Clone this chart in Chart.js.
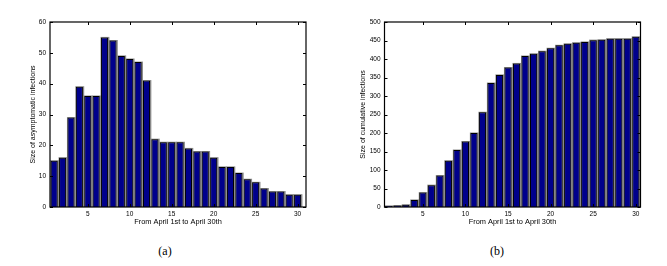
<!DOCTYPE html>
<html>
<head>
<meta charset="utf-8">
<script src="https://cdn.jsdelivr.net/npm/chart.js@4"></script>
<style>
  body { margin: 0; background: #fff; width: 667px; height: 266px; position: relative; overflow: hidden; }
  .box { position: absolute; top: 0; height: 230px; }
  .cap { position: absolute; top: 244px; font: 12px "Liberation Serif", serif; color: #000; transform: translateX(-50%); }
</style>
</head>
<body>
<div class="box" style="left:0;width:330px"><canvas id="chartA"></canvas></div>
<div class="box" style="left:330px;width:337px"><canvas id="chartB"></canvas></div>
<div class="cap" style="left:165px">(a)</div>
<div class="cap" style="left:497px">(b)</div>
<script>
const days = [1,2,3,4,5,6,7,8,9,10,11,12,13,14,15,16,17,18,19,20,21,22,23,24,25,26,27,28,29,30];
const asymptomatic = [15,16,29,39,36,36,55,54,49,48,47,41,22,21,21,21,19,18,18,16,13,13,11,9,8,6,5,5,4,4];
const cumulative = [3,4,6,19,39,59,85,125,154,177,200,256,335,357,377,388,408,414,421,429,437,441,444,446,451,452,455,455,455,460];
const xTicks = [5,10,15,20,25,30];

const tickFont = { family: 'Liberation Sans', size: 6.5 };

// inside tick marks + box, matlab style
const boxPlugin = {
    id: 'box',
    beforeDatasetsDraw(chart) {
        const ctx = chart.ctx;
        ctx.save();
        ctx.fillStyle = '#8a8a8a';
        chart.getDatasetMeta(0).data.forEach(bar => {
            ctx.fillRect(bar.x - bar.width / 2 - 0.5, bar.y - 0.5, bar.width + 1.8, bar.base - bar.y + 0.5);
        });
        ctx.restore();
    },
    afterDatasetsDraw(chart) {
        const ctx = chart.ctx;
        const a = chart.chartArea;
        ctx.save();
        ctx.strokeStyle = '#000';
        ctx.lineWidth = 1;
        ctx.beginPath();
        chart.scales.x.ticks.forEach(t => {
            const px = Math.round(chart.scales.x.getPixelForValue(t.value)) + 0.5;
            ctx.moveTo(px, a.bottom); ctx.lineTo(px, a.bottom - 3);
            ctx.moveTo(px, a.top); ctx.lineTo(px, a.top + 3);
        });
        chart.scales.y.ticks.forEach(t => {
            const py = Math.round(chart.scales.y.getPixelForValue(t.value)) + 0.5;
            ctx.moveTo(a.left, py); ctx.lineTo(a.left + 3, py);
            ctx.moveTo(a.right, py); ctx.lineTo(a.right - 3, py);
        });
        ctx.stroke();
        ctx.lineWidth = 1.2;
        ctx.strokeRect(a.left, a.top, a.right - a.left, a.bottom - a.top);
        ctx.restore();
    }
};

function makeChart(id, values, xMax, yMax, yStep, yTitle, yWidth, rightPad) {
    const ctx = document.getElementById(id).getContext('2d');
    return new Chart(ctx, {
        type: 'bar',
        data: {
            datasets: [{
                data: days.map((d, i) => ({ x: d, y: values[i] })),
                backgroundColor: '#00008c',
                borderColor: '#000',
                borderWidth: 1,
                barPercentage: 0.84,
                categoryPercentage: 1
            }]
        },
        options: {
            responsive: true,
            maintainAspectRatio: false,
            animation: false,
            events: [],
            layout: { padding: { top: 22, right: rightPad, left: 0, bottom: 0 } },
            plugins: { legend: { display: false }, tooltip: { enabled: false } },
            scales: {
                x: {
                    type: 'linear',
                    offset: false,
                    min: 0.5,
                    max: xMax,
                    afterBuildTicks: s => { s.ticks = xTicks.map(v => ({ value: v })); },
                    afterFit: s => { s.height = 23; },
                    grid: { display: false, drawTicks: false },
                    border: { display: false },
                    ticks: { font: tickFont, color: '#000', padding: 3, maxRotation: 0 },
                    title: { display: true, text: 'From April 1st to April 30th', color: '#000',
                             font: { family: 'Liberation Sans', size: 7.4 }, padding: { top: 0, bottom: 4 } }
                },
                y: {
                    min: 0,
                    max: yMax,
                    ticks: { stepSize: yStep, font: tickFont, color: '#000', padding: 4 },
                    afterFit: s => { s.width = yWidth; },
                    grid: { display: false, drawTicks: false },
                    border: { display: false },
                    title: { display: true, text: yTitle, color: '#000',
                             font: { family: 'Liberation Sans', size: 7 }, padding: { top: 29, bottom: 0 } }
                }
            }
        },
        plugins: [boxPlugin]
    });
}

makeChart('chartA', asymptomatic, 31, 60, 10, 'Size of asymptomatic infections', 50, 24);
makeChart('chartB', cumulative, 30.55, 500, 50, 'Size of cumulative infections', 54.5, 26.5);
</script>
</body>
</html>
